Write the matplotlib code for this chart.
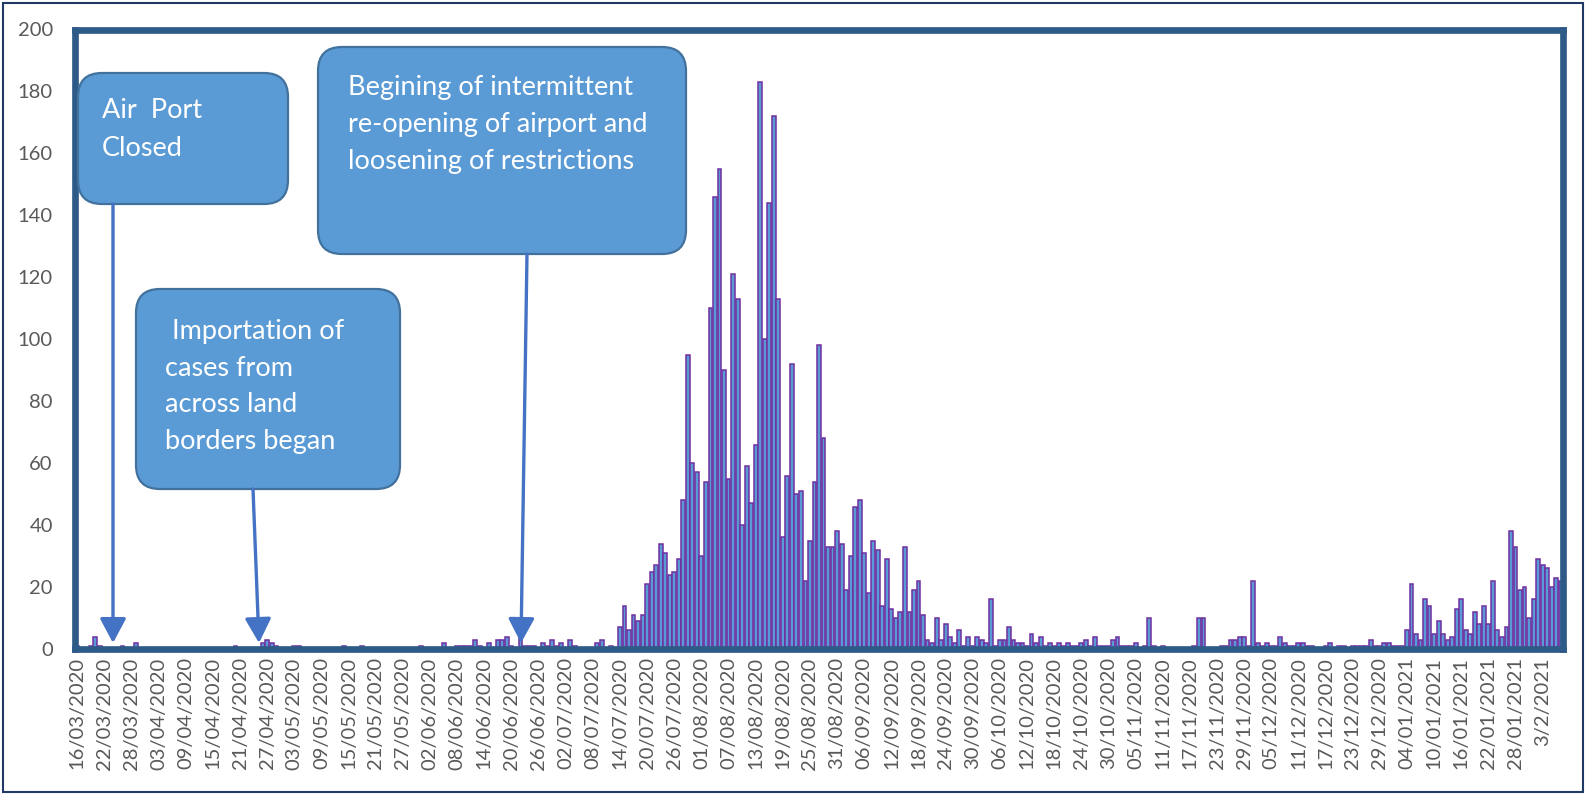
import matplotlib.pyplot as plt
import numpy as np
import pandas as pd
from matplotlib.patches import FancyBboxPatch, Rectangle

plt.rcParams['font.family'] = ['Lato', 'DejaVu Sans']

W, H = 1586, 795

# daily new cases, one value per day starting 16/03/2020
start_date = '2020-03-16'
cases = [
    1, 0, 0, 1, 4, 1, 0, 0, 0, 0, 1, 0, 0, 2, 0, 0, 0, 0, 0, 0,
    0, 0, 0, 0, 0, 0, 0, 0, 0, 0, 0, 0, 0, 0, 0, 1, 0, 0, 0, 0,
    0, 2, 3, 2, 1, 0, 0, 0, 1, 1, 0, 0, 0, 0, 0, 0, 0, 0, 0, 1,
    0, 0, 0, 1, 0, 0, 0, 0, 0, 0, 0, 0, 0, 0, 0, 0, 1, 0, 0, 0,
    0, 2, 0, 0, 1, 1, 1, 1, 3, 1, 0, 2, 0, 3, 3, 4, 1, 0, 5, 1,
    1, 1, 0, 2, 1, 3, 1, 2, 0, 3, 1, 0, 0, 0, 0, 2, 3, 0, 1, 0,
    7, 14, 6, 11, 9, 11, 21, 25, 27, 34, 31, 24, 25, 29, 48, 95, 60, 57, 30, 54,
    110, 146, 155, 90, 55, 121, 113, 40, 59, 47, 66, 183, 100, 144, 172, 113, 36, 56, 92, 50,
    51, 22, 35, 54, 98, 68, 33, 33, 38, 34, 19, 30, 46, 48, 31, 18, 35, 32, 14, 29,
    13, 10, 12, 33, 12, 19, 22, 11, 3, 2, 10, 3, 8, 4, 2, 6, 1, 4, 1, 4,
    3, 2, 16, 1, 3, 3, 7, 3, 2, 2, 1, 5, 2, 4, 1, 2, 1, 2, 1, 2,
    1, 1, 2, 3, 1, 4, 1, 1, 1, 3, 4, 1, 1, 1, 2, 0, 1, 10, 1, 0,
    1, 0, 0, 0, 0, 0, 0, 1, 10, 10, 0, 0, 0, 1, 1, 3, 3, 4, 4, 1,
    22, 2, 1, 2, 1, 1, 4, 2, 1, 1, 2, 2, 1, 1, 0, 0, 1, 2, 0, 1,
    1, 0, 1, 1, 1, 1, 3, 1, 1, 2, 2, 1, 1, 1, 6, 21, 5, 3, 16, 14,
    5, 9, 5, 3, 4, 13, 16, 6, 5, 12, 8, 14, 8, 22, 6, 4, 7, 38, 33, 19,
    20, 10, 16, 29, 27, 26, 20, 23, 22,
]
dates = pd.date_range(start_date, periods=len(cases), freq='D')
tick_step = 6
tick_labels = [d.strftime('%d/%m/%Y') for d in dates[::tick_step]]
tick_labels[-1] = '3/2/2021'
y_ticks = list(range(0, 201, 20))

# text boxes: (left, top, right, bottom) in pixels, text lines, arrow tail -> tip
notes = [
    dict(box=(78, 73, 288, 204), lines=['Air  Port', 'Closed'], tx=102, ty=111,
         step=37, size=19.5, arrow=((113, 204), (113, 643))),
    dict(box=(136, 289, 400, 489),
         lines=[' Importation of', 'cases from', 'across land', 'borders began'],
         tx=165, ty=331, step=37, size=19.5, arrow=((253, 489), (259, 643))),
    dict(box=(318, 47, 686, 254),
         lines=['Begining of intermittent', 're-opening of airport and',
                'loosening of restrictions'],
         tx=348, ty=88, step=36.5, size=19.5, arrow=((527, 254), (521, 643))),
]

fig = plt.figure(figsize=(W / 100, H / 100), dpi=100)
ax = fig.add_axes([75 / W, 1 - 649 / H, (1563 - 75) / W, (649 - 29.5) / H])

x = np.arange(len(cases))
ax.bar(x, cases, width=0.85, color='#5B9BD5', edgecolor='#7030A0', linewidth=1.1)

ax.set_xlim(-0.5, len(cases) - 0.5)
ax.set_ylim(0, 200)
ax.set_xticks(x[:325:tick_step])
ax.set_xticklabels(tick_labels[:len(x[:325:tick_step])], rotation=90)
ax.set_yticks(y_ticks)
ax.tick_params(axis='both', length=0, colors='#595959')
ax.tick_params(axis='x', labelsize=14.5, pad=6)
ax.tick_params(axis='y', labelsize=14.5, pad=16)
for s in ax.spines.values():
    s.set_color('#2E5A87')
    s.set_linewidth(4.8)

# overlay in pixel coordinates for boxes and arrows
ov = fig.add_axes([0, 0, 1, 1], zorder=5)
ov.set_xlim(0, W)
ov.set_ylim(H, 0)
ov.axis('off')
ov.patch.set_alpha(0)

ov.add_patch(Rectangle((3, 3), W - 6, 789, fill=False, edgecolor='#1F3864', linewidth=1.5))

for n in notes:
    l, t, r, b = n['box']
    ov.add_patch(FancyBboxPatch((l, t), r - l, b - t,
                                boxstyle='round,pad=0,rounding_size=24',
                                facecolor='#5B9BD5', edgecolor='#41719C', linewidth=1.6))
    for i, line in enumerate(n['lines']):
        ov.text(n['tx'], n['ty'] + i * n['step'], line, color='white',
                fontsize=n['size'], ha='left', va='center')
    (x0, y0), (x1, y1) = n['arrow']
    ov.annotate('', xy=(x1, y1), xytext=(x0, y0),
                arrowprops=dict(arrowstyle='-|>,head_length=0.75,head_width=0.4',
                                color='#4472C4', lw=2.4, shrinkA=0, shrinkB=0,
                                mutation_scale=20))

fig.savefig('out.png', dpi=100)
